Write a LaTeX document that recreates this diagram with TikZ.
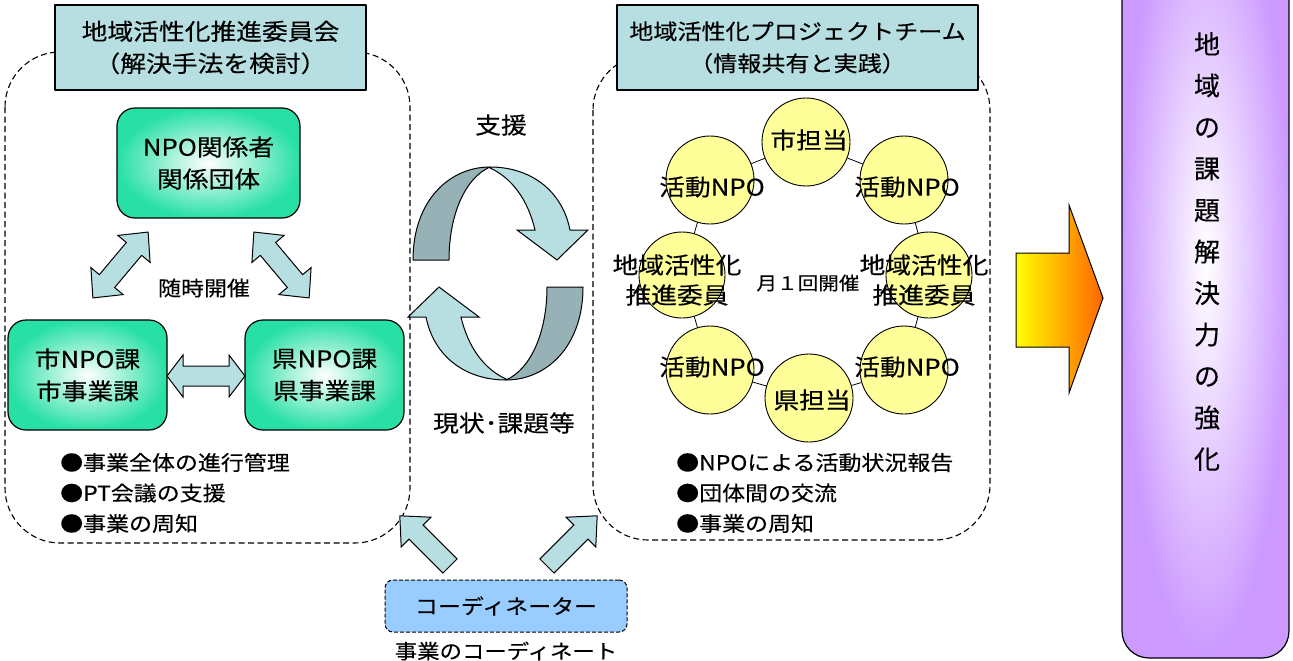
\documentclass[tikz,border=0pt]{standalone}
\usepackage{fontspec}
\setmainfont{Noto Sans CJK JP}[FakeStretch=1.12, FakeBold=0.3]
\newfontfamily\vfont{Noto Sans CJK JP}[FakeBold=0.3]
\definecolor{titleC}{RGB}{183,222,224}
\definecolor{arrowC}{RGB}{183,222,224}
\definecolor{arrowD}{RGB}{150,178,182}
\definecolor{gboxC}{RGB}{40,224,165}
\definecolor{yelC}{RGB}{255,255,153}
\definecolor{coordC}{RGB}{153,204,255}
\definecolor{purC}{RGB}{204,153,255}
\definecolor{orC}{RGB}{255,102,0}
\newcommand\cycArrowShape{%
   \filldraw[fill=arrowD, draw=black, line width=1pt] (413,260) .. controls (413,200) and (450,167) .. (490,167) .. controls (465,178) and (449,215) .. (449,260) -- cycle;
   \filldraw[fill=arrowC, draw=black, line width=1pt, line join=miter] (490,167) .. controls (530,167) and (562,190) .. (570,230) -- (588,230) -- (557,260) -- (517,230) -- (535,230) .. controls (528,200) and (512,178) .. (490,168) -- cycle;}
\tikzset{
 arrowshape/.style={draw, line width=1pt, fill=arrowC, line join=miter},
 pics/darrow/.style n args={2}{code={
   \pgfmathsetmacro\dAl{#1/2}\pgfmathsetmacro\dAb{#1/2-#2}
   \draw[arrowshape] (-\dAl,0) -- (-\dAb,-21) -- (-\dAb,-10) -- (\dAb,-10) -- (\dAb,-21) -- (\dAl,0) -- (\dAb,21) -- (\dAb,10) -- (-\dAb,10) -- (-\dAb,21) -- cycle;
 }},
 pics/sarrow/.style n args={2}{code={
   \pgfmathsetmacro\sAb{#1-#2}
   \draw[arrowshape] (0,-10) -- (\sAb,-10) -- (\sAb,-21) -- (#1,0) -- (\sAb,21) -- (\sAb,10) -- (0,10) -- cycle;
 }}
}
\begin{document}
\begin{tikzpicture}[x=1pt,y=-1pt, line join=round,
  titlebox/.style={draw, line width=1.2pt, fill=titleC, align=center, inner sep=0pt},
  gbox/.style={draw, line width=1.2pt, rounded corners=18pt, inner color=white, outer color=gboxC, align=center, inner sep=0pt, font=\fontsize{23}{32}\selectfont},
  ycirc/.style={circle, draw, line width=0.9pt, fill=yelC, minimum size=88pt, inner sep=0pt},
  ctext/.style={align=center, inner sep=0pt, font=\fontsize{23}{30}\selectfont},
  region/.style={draw, dash pattern=on 6pt off 3.5pt, line width=1.1pt, rounded corners=55pt},
  bullets/.style={align=left, anchor=west, inner sep=0pt, font=\fontsize{20.5}{30.5}\selectfont},
  plain/.style={inner sep=0pt, align=center}
]
\useasboundingbox (0,0) rectangle (1293,661);

% ---- left region ----
\draw[region] (5,52) rectangle (410,543);
\node[titlebox, minimum width=311pt, minimum height=85pt, font=\fontsize{23}{32}\selectfont] (t1) at (210.5,47.5) {地域活性化推進委員会\\（解決手法を検討）};
\node[gbox, minimum width=183pt, minimum height=110pt] (npo) at (208.5,163) {NPO関係者\\関係団体};
\node[gbox, minimum width=159pt, minimum height=110pt] (shi) at (87.5,375) {市NPO課\\市事業課};
\node[gbox, minimum width=159pt, minimum height=110pt] (ken) at (324.5,375) {県NPO課\\県事業課};
\pic[rotate=50] at (120.5,265) {darrow={86}{22}};
\pic[rotate=130] at (281.5,265) {darrow={86}{22}};
\pic at (206,376) {darrow={78}{16}};
\node[plain, font=\fontsize{20.5}{24}\selectfont] (zuiji) at (204,288) {随時開催};
\node[bullets] (lb) at (60,493) {●事業全体の進行管理\\●PT会議の支援\\●事業の周知};

% ---- middle ----
\node[plain, font=\fontsize{23}{26}\selectfont] (shien) at (501,125) {支援};
\cycArrowShape
\begin{scope}[rotate around={180:(498,273.5)}]
\cycArrowShape
\end{scope}
\node[plain, font=\fontsize{23}{26}\selectfont] (genjo) at (504,423) {現状･課題等};

% ---- right region ----
\draw[region] (593,55) rectangle (990,540);
\node[titlebox, minimum width=361pt, minimum height=85pt, font=\fontsize{21.5}{32}\selectfont] (t2) at (797.5,47.5) {地域活性化プロジェクトチーム\\（情報共有と実践）};
\node[ycirc] (c1) at (806,142) {};
\node[ycirc] (c2) at (710,180) {};
\node[ycirc, minimum size=86pt] (c3) at (682,275) {};
\node[ycirc] (c4) at (710,370) {};
\node[ycirc] (c5) at (809,398) {};
\node[ycirc] (c6) at (904,370) {};
\node[ycirc, minimum size=86pt] (c7) at (929,275) {};
\node[ycirc] (c8) at (904,180) {};
\foreach \a/\b in {c1/c2,c2/c3,c3/c4,c4/c5,c5/c6,c6/c7,c7/c8,c8/c1}
  \draw[line width=0.8pt] (\a) -- (\b);
\node[ctext] (ct1) at (809,140) {市担当};
\node[ctext] (ct2) at (712,187) {活動NPO};
\node[ctext] (ct3) at (677,280) {地域活性化\\推進委員};
\node[ctext] (ct4) at (712,367) {活動NPO};
\node[ctext] (ct5) at (812,400) {県担当};
\node[ctext] (ct6) at (907,367) {活動NPO};
\node[ctext] (ct7) at (924,280) {地域活性化\\推進委員};
\node[ctext] (ct8) at (907,187) {活動NPO};
\node[plain, font=\fontsize{18.4}{22}\selectfont] (tsuki) at (808,283) {月１回開催};
\node[bullets] (rb) at (676,493) {●NPOによる活動状況報告\\●団体間の交流\\●事業の周知};

% ---- coordinator ----
\pic[rotate=135] at (450,566) {sarrow={71}{23}};
\pic[rotate=45] at (547,566) {sarrow={71}{23}};
\node[draw, dash pattern=on 4pt off 2pt, line width=1pt, rounded corners=8pt, fill=coordC, minimum width=242pt, minimum height=52pt, inner sep=0pt, font=\fontsize{20.5}{24}\selectfont] (coord) at (506,606) {コーディネーター};
\node[plain, font=\fontsize{20}{24}\selectfont] (coordsub) at (506,651) {事業のコーディネート};

% ---- result ----
\shadedraw[left color=yellow, right color=orC, line width=1pt, line join=miter] (1016,253) -- (1069,253) -- (1069,205) -- (1103,298) -- (1069,393) -- (1069,347) -- (1016,347) -- cycle;
\shadedraw[inner color=white, outer color=purC, line width=1.2pt, rounded corners=27pt] (1122,-140) rectangle (1289,658);
\node[plain, font=\vfont\fontsize{26}{41.5}\selectfont] (vt) at (1207,251.5) {地\\域\\の\\課\\題\\解\\決\\力\\の\\強\\化};
\end{tikzpicture}
\end{document}
